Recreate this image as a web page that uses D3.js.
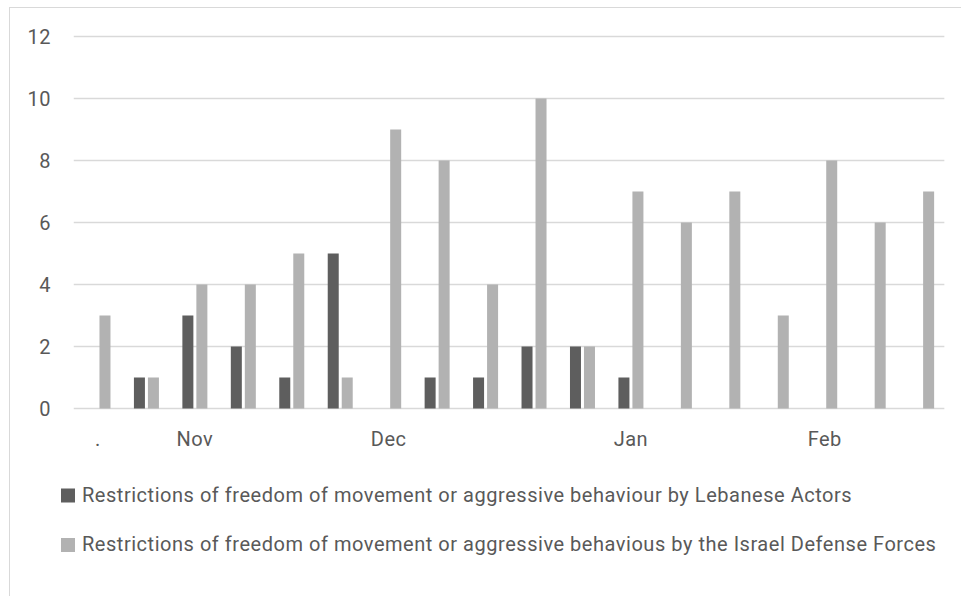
<!DOCTYPE html>
<html>
<head>
<meta charset="utf-8">
<script src="https://cdn.jsdelivr.net/npm/d3@7/dist/d3.min.js"></script>
<style>
  html, body { margin: 0; padding: 0; background: #fff; }
  svg { display: block; }
  text { font-family: Roboto, "Open Sans", Arial, sans-serif; fill: #595959; }
</style>
</head>
<body>
<svg id="chart" width="961" height="596"></svg>
<script>
// Category labels along the x axis (blank entries have no label)
const categories = [".", "", "Nov", "", "", "", "Dec", "", "", "", "", "Jan", "", "", "", "Feb", "", ""];

// Incident counts per period
const lebaneseActors = [0, 1, 3, 2, 1, 5, 0, 1, 1, 2, 2, 1, 0, 0, 0, 0, 0, 0];
const israelDefenseForces = [3, 1, 4, 4, 5, 1, 9, 8, 4, 10, 2, 7, 6, 7, 3, 8, 6, 7];

const seriesNames = [
  "Restrictions of freedom of movement or aggressive behaviour by Lebanese Actors",
  "Restrictions of freedom of movement or aggressive behavious by the Israel Defense Forces"
];
const seriesColors = ["#5e5e5e", "#b2b2b2"];

const yTicks = [0, 2, 4, 6, 8, 10, 12];

const svg = d3.select("#chart");

// Outer chart frame
svg.append("rect")
  .attr("x", 9.5).attr("y", 7.5)
  .attr("width", 980).attr("height", 620)
  .attr("fill", "none").attr("stroke", "#d9d9d9").attr("stroke-width", 1);

const plot = { left: 73.75, right: 945.85, top: 36.5, bottom: 408.5 };

const x = d3.scaleBand()
  .domain(d3.range(categories.length))
  .range([plot.left, plot.right])
  .padding(0);

const y = d3.scaleLinear()
  .domain([0, 12])
  .range([plot.bottom, plot.top]);

// Sub-band for the two series inside each category
const clusterWidth = 25;
const xs = d3.scaleBand()
  .domain([0, 1])
  .range([x.bandwidth() / 2 - clusterWidth / 2, x.bandwidth() / 2 + clusterWidth / 2])
  .paddingInner(3 / 14)
  .paddingOuter(0);

// Horizontal gridlines
svg.append("g")
  .selectAll("line")
  .data(yTicks)
  .join("line")
  .attr("x1", plot.left).attr("x2", plot.right - 1.5)
  .attr("y1", d => y(d)).attr("y2", d => y(d))
  .attr("stroke", "#d9d9d9").attr("stroke-width", 1.4);

// Y axis labels
svg.append("g")
  .selectAll("text")
  .data(yTicks)
  .join("text")
  .attr("x", 51)
  .attr("y", d => y(d) + 7)
  .attr("text-anchor", "end")
  .attr("font-size", 20)
  .attr("letter-spacing", 0.5)
  .text(d => d);

// Bars
const rows = categories.map((c, i) => ({ i, values: [lebaneseActors[i], israelDefenseForces[i]] }));
const groups = svg.append("g")
  .selectAll("g")
  .data(rows)
  .join("g")
  .attr("transform", d => `translate(${x(d.i)},0)`);

groups.selectAll("rect")
  .data(d => d.values.map((v, s) => ({ v, s })).filter(e => e.v > 0))
  .join("rect")
  .attr("x", d => xs(d.s))
  .attr("width", xs.bandwidth())
  .attr("y", d => y(d.v))
  .attr("height", d => y(0) - y(d.v))
  .attr("fill", d => seriesColors[d.s]);

// X axis labels
svg.append("g")
  .selectAll("text")
  .data(categories.map((c, i) => ({ c, i })).filter(d => d.c !== ""))
  .join("text")
  .attr("x", d => x(d.i) + x.bandwidth() / 2)
  .attr("y", 445.5)
  .attr("text-anchor", "middle")
  .attr("font-size", 20)
  .attr("letter-spacing", 0.5)
  .text(d => d.c);

// Legend
const legend = svg.append("g")
  .selectAll("g")
  .data(seriesNames)
  .join("g")
  .attr("transform", (d, i) => `translate(61, ${488.5 + i * 49.5})`);

legend.append("rect")
  .attr("width", 14).attr("height", 14)
  .attr("fill", (d, i) => seriesColors[i]);

legend.append("text")
  .attr("x", 21)
  .attr("y", 13)
  .attr("font-size", 20)
  .attr("letter-spacing", 0.53)
  .text(d => d);
</script>
</body>
</html>
